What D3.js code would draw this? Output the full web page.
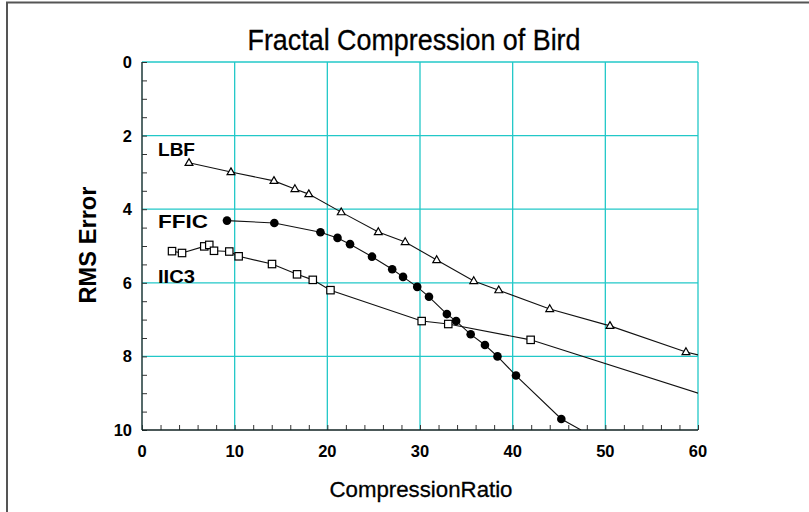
<!DOCTYPE html>
<html><head><meta charset="utf-8">
<script src="https://cdn.jsdelivr.net/npm/d3@7"></script>
<style>body{margin:0;background:#fff}svg{display:block}</style>
</head><body>
<script>
const title = "Fractal Compression of Bird";
const xLabel = "CompressionRatio";
const yLabel = "RMS Error";
const xTicks = [0,10,20,30,40,50,60];
const yTicks = [0,2,4,6,8,10];

const lbfX = [5.07,9.6,14.24,16.5,18.0,21.5,25.5,28.4,31.8,35.8,38.5,44.0,50.5,58.7];
const lbfY = [2.74,2.99,3.23,3.45,3.59,4.08,4.62,4.89,5.38,5.95,6.20,6.71,7.17,7.88];
const lbfEnd = [60,7.96];

const ffX = [9.17,14.28,19.26,21.1,22.45,24.82,27.0,28.17,29.7,30.97,32.9,33.9,35.47,37.01,38.36,40.36,45.25];
const ffY = [4.31,4.375,4.625,4.78,4.95,5.29,5.63,5.84,6.11,6.38,6.85,7.04,7.40,7.69,8.0,8.52,9.70];
const ffEnd = [47.37,10];

const iiX = [3.24,4.32,6.72,7.26,7.77,9.42,10.43,14.03,16.73,18.43,20.34,30.18,33.05,41.94];
const iiY = [5.14,5.19,5.01,4.97,5.13,5.15,5.28,5.49,5.77,5.92,6.20,7.04,7.12,7.55];
const iiEnd = [60.03,9.0];

const W=809,H=512;
const L=142,R=698,T=62,B=430;
const svg=d3.select("body").append("svg").attr("width",W).attr("height",H);
const x=d3.scaleLinear().domain([0,60]).range([L,R]);
const y=d3.scaleLinear().domain([0,10]).range([T,B]);

// frame
svg.append("path").attr("d",`M7,${H} L7,2.5 L${W},2.5`).attr("fill","none").attr("stroke","#555").attr("stroke-width",2);

// grid
const grid=svg.append("g").attr("stroke","#22c8c8").attr("stroke-width",1.3);
xTicks.slice(1).forEach(v=>grid.append("line").attr("x1",x(v)).attr("x2",x(v)).attr("y1",T).attr("y2",B));
yTicks.slice(0,-1).forEach(v=>grid.append("line").attr("x1",L).attr("x2",R).attr("y1",y(v)).attr("y2",y(v)));

// axes
const yAxis=d3.axisRight(y).tickValues(d3.range(0,10.01,0.5)).tickSize(5).tickFormat("");
svg.append("g").attr("transform",`translate(${L},0)`).call(yAxis)
  .call(g=>{g.select(".domain").remove();g.selectAll("line").attr("stroke","#333");});
const xAxis=d3.axisTop(x).tickValues(d3.range(0,60.01,2)).tickSize(5).tickFormat("");
svg.append("g").attr("transform",`translate(0,${B})`).call(xAxis)
  .call(g=>{g.select(".domain").remove();g.selectAll("line").attr("stroke","#333");});
svg.append("line").attr("x1",L).attr("x2",L).attr("y1",T).attr("y2",B).attr("stroke","#1d3838").attr("stroke-width",1.5);
svg.append("line").attr("x1",L).attr("x2",R).attr("y1",B).attr("y2",B).attr("stroke","#112222").attr("stroke-width",1.5);

// tick labels
const lf="'Liberation Sans',Arial,sans-serif";
svg.append("g").selectAll("text").data(xTicks).join("text")
  .attr("x",d=>x(d)).attr("y",B+27).attr("text-anchor","middle")
  .attr("font-family",lf).attr("font-weight","bold").attr("font-size",16.5).text(d=>d);
svg.append("g").selectAll("text").data(yTicks).join("text")
  .attr("x",L-10).attr("y",d=>y(d)+6).attr("text-anchor","end")
  .attr("font-family",lf).attr("font-weight","bold").attr("font-size",16.5).text(d=>d);

// titles
svg.append("text").attr("x",414).attr("y",50).attr("text-anchor","middle")
  .attr("font-family",lf).attr("font-size",29).attr("textLength",333).attr("lengthAdjust","spacingAndGlyphs")
  .attr("stroke","#000").attr("stroke-width",0.3).text(title);
svg.append("text").attr("x",421).attr("y",497).attr("text-anchor","middle")
  .attr("font-family",lf).attr("font-size",22).attr("textLength",183).attr("lengthAdjust","spacingAndGlyphs")
  .attr("stroke","#000").attr("stroke-width",0.3).text(xLabel);
svg.append("text").attr("transform","translate(96,245) rotate(-90)").attr("text-anchor","middle")
  .attr("font-family",lf).attr("font-weight","bold").attr("font-size",23.5).attr("textLength",117).attr("lengthAdjust","spacingAndGlyphs").text(yLabel);

// series
const clip=svg.append("clipPath").attr("id","c").append("rect").attr("x",L).attr("y",T).attr("width",R-L).attr("height",B-T);
const line=d3.line().x(d=>x(d[0])).y(d=>y(d[1]));
function series(xs,ys,end,shape){
  const pts=xs.map((v,i)=>[v,ys[i]]);
  svg.append("path").attr("d",line(pts.concat([end]))).attr("fill","none").attr("stroke","#111").attr("stroke-width",1.1).attr("clip-path","url(#c)");
  const g=svg.append("g");
  pts.forEach(p=>{
    const cx=x(p[0]),cy=y(p[1]);
    if(shape==="circle") g.append("circle").attr("cx",cx).attr("cy",cy).attr("r",4.3).attr("fill","#000");
    else if(shape==="square") g.append("rect").attr("x",cx-3.7).attr("y",cy-3.7).attr("width",7.4).attr("height",7.4).attr("fill","#fff").attr("stroke","#000").attr("stroke-width",1.2);
    else g.append("path").attr("d",`M${cx},${cy-4.2}L${cx+3.9},${cy+2.6}L${cx-3.9},${cy+2.6}Z`).attr("fill","#fff").attr("stroke","#000").attr("stroke-width",1.2);
  });
}
series(lbfX,lbfY,lbfEnd,"tri");
series(ffX,ffY,ffEnd,"circle");
series(iiX,iiY,iiEnd,"square");

// series labels
[["LBF",158,156,37],["FFIC",158,228,50],["IIC3",158,283,37]].forEach(([t,lx,ly,tl])=>
  svg.append("text").attr("x",lx).attr("y",ly).attr("font-family",lf).attr("font-weight","bold").attr("font-size",19)
    .attr("textLength",tl).attr("lengthAdjust","spacingAndGlyphs").text(t));
</script>
</body></html>
